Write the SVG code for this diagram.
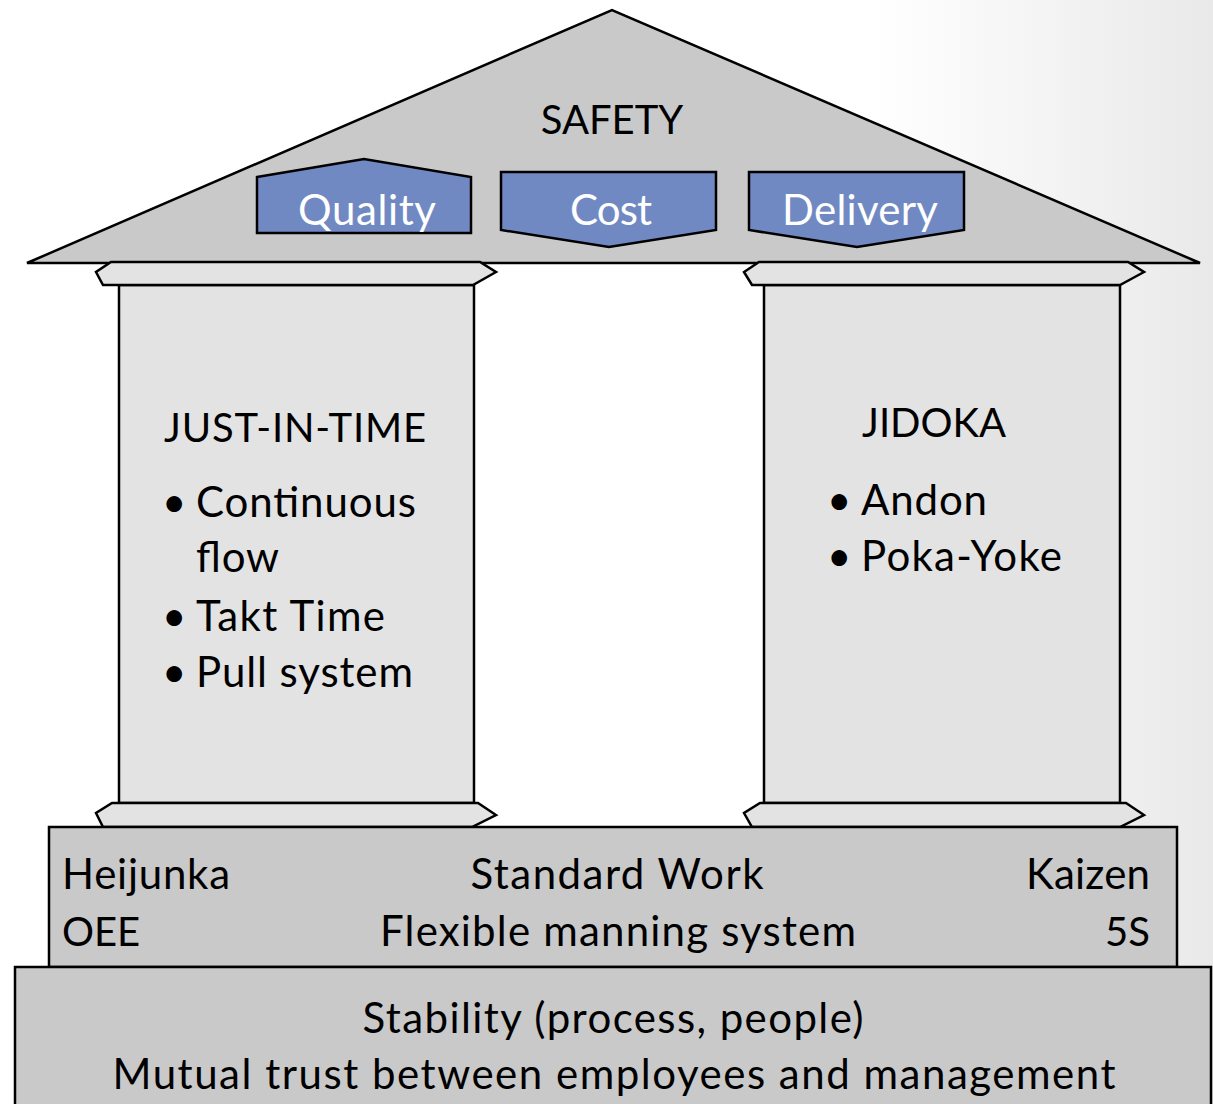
<svg xmlns="http://www.w3.org/2000/svg" width="1213" height="1104" viewBox="0 0 1213 1104">
<defs>
<linearGradient id="bg" x1="0" y1="0" x2="1" y2="0">
<stop offset="0" stop-color="#ffffff"/>
<stop offset="0.72" stop-color="#ffffff"/>
<stop offset="1" stop-color="#e9e9e9"/>
</linearGradient>
<style>
.ln{stroke:#000;stroke-width:2.5;stroke-linejoin:miter}
.roof{fill:#c9c9c9}
.col{fill:#e3e3e3}
.blue{fill:#7189c2}
.grey{fill:#c9c9c9}
text{font-family:Lato,"Liberation Sans",sans-serif;font-size:42px;fill:#000}
.c{font-size:40px}
.w{fill:#fff}
.m{text-anchor:middle}
.e{text-anchor:end}
</style>
</defs>
<rect x="0" y="0" width="1213" height="1104" fill="url(#bg)"/>
<g id="roof">
<polygon class="roof ln" points="27,263 612,10 1200,263"/>
<text class="m c" x="612" y="134">SAFETY</text>
</g>
<g id="quality">
<polygon class="blue ln" points="257,177 364,159 471,177 471,233 257,233"/>
<text class="w m" x="367" y="225" textLength="138" lengthAdjust="spacing">Quality</text>
</g>
<g id="cost">
<polygon class="blue ln" points="501,172 716,172 716,230 609,247 501,230"/>
<text class="w m" x="611" y="225" textLength="82" lengthAdjust="spacing">Cost</text>
</g>
<g id="delivery">
<polygon class="blue ln" points="749,172 964,172 964,230 857,247 749,230"/>
<text class="w m" x="860" y="225" textLength="156" lengthAdjust="spacing">Delivery</text>
</g>
<g id="pillar-left">
<rect class="col ln" x="119" y="285" width="355" height="518"/>
<polygon class="col ln" points="111,262 480,262 496,272 473,285 103,285 96,272"/>
<polygon class="col ln" points="112,803 478,803 496,815 472,827 103,827 96,813"/>
<text class="c" x="164" y="442" textLength="262" lengthAdjust="spacing">JUST-IN-TIME</text>
<text x="162" y="517">•</text>
<text x="196" y="517" textLength="220" lengthAdjust="spacing">Continuous</text>
<text x="196" y="572" textLength="83" lengthAdjust="spacing">flow</text>
<text x="162" y="631">•</text>
<text x="196" y="631" textLength="189" lengthAdjust="spacing">Takt Time</text>
<text x="162" y="687">•</text>
<text x="196" y="687" textLength="217" lengthAdjust="spacing">Pull system</text>
</g>
<g id="pillar-right">
<rect class="col ln" x="764" y="285" width="356" height="518"/>
<polygon class="col ln" points="759,262 1128,262 1144,272 1120,285 752,285 744,272"/>
<polygon class="col ln" points="760,803 1126,803 1144,815 1120,827 752,827 744,813"/>
<text class="c" x="862" y="437">JIDOKA</text>
<text x="827" y="515">•</text>
<text x="861" y="515" textLength="126" lengthAdjust="spacing">Andon</text>
<text x="827" y="571">•</text>
<text x="861" y="571" textLength="201" lengthAdjust="spacing">Poka-Yoke</text>
</g>
<g id="base">
<rect class="grey ln" x="49" y="827" width="1128" height="140"/>
<text x="62" y="889" textLength="168" lengthAdjust="spacing">Heijunka</text>
<text class="c" x="62" y="946">OEE</text>
<text class="m" x="617" y="889" textLength="293" lengthAdjust="spacing">Standard Work</text>
<text class="m" x="618" y="946" textLength="476" lengthAdjust="spacing">Flexible manning system</text>
<text class="e" x="1150" y="889" textLength="124" lengthAdjust="spacing">Kaizen</text>
<text class="e c" x="1150" y="946">5S</text>
</g>
<g id="foundation">
<rect class="grey ln" x="15" y="967" width="1196" height="150"/>
<text class="m" x="613" y="1033" textLength="501" lengthAdjust="spacing">Stability (process, people)</text>
<text class="m" x="614" y="1089" textLength="1003" lengthAdjust="spacing">Mutual trust between employees and management</text>
</g>
<g id="connectors"></g>
</svg>
